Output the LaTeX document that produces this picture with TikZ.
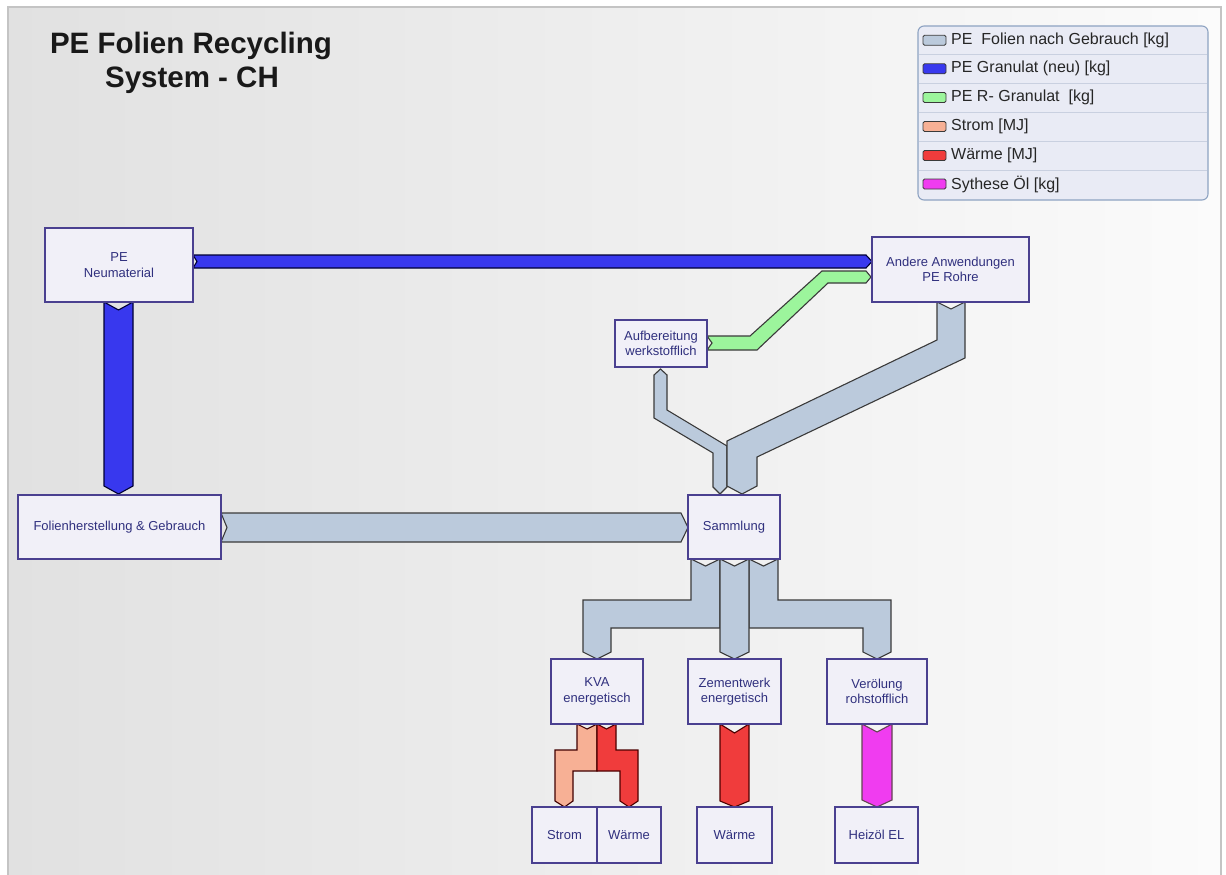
\documentclass[tikz,border=0pt]{standalone}
\usepackage{fontspec}
\setmainfont{Liberation Sans}
\usetikzlibrary{calc}
\definecolor{bgl}{HTML}{E1E1E1}
\definecolor{bgr}{HTML}{FBFBFB}
\definecolor{panelline}{HTML}{C4C4C4}
\definecolor{boxfill}{HTML}{F1F0F8}
\definecolor{boxline}{HTML}{4A4090}
\definecolor{boxtext}{HTML}{30307E}
\definecolor{fgray}{HTML}{BBCADC}
\definecolor{fblue}{HTML}{3838EE}
\definecolor{fgreen}{HTML}{9CF59C}
\definecolor{fsalmon}{HTML}{F7B095}
\definecolor{fred}{HTML}{F03C3C}
\definecolor{fmag}{HTML}{F03CF0}
\definecolor{edge}{HTML}{3A3A3A}
\definecolor{legfill}{HTML}{E9EBF5}
\definecolor{legline}{HTML}{8EA3C2}
\definecolor{legsep}{HTML}{C9D0E0}
\tikzset{
  procbox/.style={draw=boxline, fill=boxfill, line width=1.2pt, text=boxtext,
    font=\fontsize{13}{15.5}\selectfont, align=center, inner sep=0pt},
  flow/.style={draw=edge, line width=1.1pt, line join=miter},
  swatch/.style={draw=edge, line width=0.9pt, rounded corners=1.5pt},
  legtext/.style={anchor=west, inner sep=0pt, text=black!85, font=\fontsize{16}{18}\selectfont},
  titletext/.style={anchor=base, inner sep=0pt, text=black!90, font=\fontsize{29.5}{34}\selectfont\bfseries}
}
\begin{document}
\begin{tikzpicture}[x=1pt,y=-1pt]
\useasboundingbox (0,0) rectangle (1226,875);
\fill[white] (0,0) rectangle (1226,875);
\shade[left color=bgl,right color=bgr] (8,7) rectangle (1221,875);
\draw[panelline, line width=1.2pt] (8,875) -- (8,7) -- (1221,7) -- (1221,875);

% title
\node[titletext] (title1) at (191,53.3) {PE Folien Recycling};
\node[titletext] (title2) at (192,87.7) {System - CH};

% legend
\draw[draw=legline, fill=legfill, line width=1.1pt, rounded corners=6pt] (918,26) rectangle (1208,200);
\foreach \yy in {54.5,83,112,141,170}{\draw[legsep, line width=0.9pt] (919,\yy) -- (1207,\yy);}
\draw[swatch, fill=fgray]   (923,35.3) rectangle (946,45.3);
\draw[swatch, fill=fblue]   (923,63.8) rectangle (946,73.8);
\draw[swatch, fill=fgreen]  (923,92.5) rectangle (946,102.5);
\draw[swatch, fill=fsalmon] (923,121.5) rectangle (946,131.5);
\draw[swatch, fill=fred]    (923,150.5) rectangle (946,160.5);
\draw[swatch, fill=fmag]    (923,179) rectangle (946,189);
\node[legtext] (l1) at (951,40.3) {PE\ \ Folien nach Gebrauch [kg]};
\node[legtext] (l2) at (951,68.8) {PE Granulat (neu) [kg]};
\node[legtext] (l3) at (951,97.5) {PE R- Granulat\ \ [kg]};
\node[legtext] (l4) at (951,126.5) {Strom [MJ]};
\node[legtext] (l5) at (951,155.5) {Wärme [MJ]};
\node[legtext] (l6) at (951,184) {Sythese Öl [kg]};

% flows
% blue: Neumaterial -> Andere Anwendungen
\draw[flow, fill=fblue, draw=blue!20!black] (193,255) -- (866,255) -- (872,261.5) -- (866,268) -- (193,268) -- (197,261.5) -- cycle;
% blue: Neumaterial -> Folienherstellung
\draw[flow, fill=fblue, draw=blue!20!black] (104,302) -- (118.5,310) -- (133,302) -- (133,486) -- (118.5,494) -- (104,486) -- cycle;
% gray: Folienherstellung -> Sammlung
\draw[flow, fill=fgray] (221,513) -- (681,513) -- (688,527.5) -- (681,542) -- (221,542) -- (227,527.5) -- cycle;
% green: Aufbereitung -> Andere
\draw[flow, fill=fgreen] (707,336) -- (750,336) -- (822,271) -- (866,271) -- (871,277) -- (866,283) -- (828,283) -- (757,350) -- (707,350) -- (712,343) -- cycle;
% gray: Aufbereitung -> Sammlung
\draw[flow, fill=fgray] (654,375) -- (660.5,369) -- (667,375) -- (667,410) -- (727,446) -- (727,487) -- (720,494) -- (713,487) -- (713,453) -- (654,418) -- cycle;
% gray: Andere -> Sammlung
\draw[flow, fill=fgray] (937,302) -- (951,309) -- (965,302) -- (965,358) -- (757,457) -- (757,486) -- (742,494) -- (727,486) -- (727,441) -- (937,340) -- cycle;
% gray: Sammlung -> KVA
\draw[flow, fill=fgray] (691,559) -- (705.5,566) -- (720,559) -- (720,628) -- (611,628) -- (611,652) -- (597,659) -- (583,652) -- (583,600) -- (691,600) -- cycle;
% gray: Sammlung -> Verölung
\draw[flow, fill=fgray] (749,559) -- (763.5,566) -- (778,559) -- (778,600) -- (891,600) -- (891,652) -- (877,659) -- (863,652) -- (863,628) -- (749,628) -- cycle;
% gray: Sammlung -> Zementwerk
\draw[flow, fill=fgray] (720,559) -- (734.5,566) -- (749,559) -- (749,652) -- (734.5,659) -- (720,652) -- cycle;
% KVA -> Strom
\draw[flow, fill=fsalmon, draw=black!75!red] (577,724) -- (587,729) -- (597,724) -- (597,771) -- (573,771) -- (573,801) -- (564.5,807) -- (555,801) -- (555,750) -- (577,750) -- cycle;
% KVA -> Wärme
\draw[flow, fill=fred, draw=black!70!red] (597,724) -- (606.5,729) -- (616,724) -- (616,750) -- (638,750) -- (638,801) -- (629,807) -- (620,801) -- (620,771) -- (597,771) -- cycle;
% Zementwerk -> Wärme
\draw[flow, fill=fred, draw=black!70!red] (720,724) -- (734.5,733) -- (749,724) -- (749,801) -- (734.5,807) -- (720,801) -- cycle;
% Verölung -> Heizöl
\draw[flow, fill=fmag, draw=black!70!magenta] (862,724) -- (877,732) -- (892,724) -- (892,800) -- (877,807) -- (862,800) -- cycle;

% process boxes
\node[procbox, minimum width=148pt, minimum height=74pt] (neu) at (119,265) {PE\\Neumaterial};
\node[procbox, minimum width=157pt, minimum height=65pt] (andere) at (950.5,269.5) {Andere Anwendungen\\PE Rohre};
\node[procbox, minimum width=92pt, minimum height=47pt] (aufb) at (661,343.5) {Aufbereitung\\werkstofflich};
\node[procbox, minimum width=203pt, minimum height=64pt] (folien) at (119.5,527) {Folienherstellung \& Gebrauch};
\node[procbox, minimum width=92pt, minimum height=64pt] (samm) at (734,527) {Sammlung};
\node[procbox, minimum width=92pt, minimum height=65pt] (kva) at (597,691.5) {KVA\\energetisch};
\node[procbox, minimum width=93pt, minimum height=65pt] (zem) at (734.5,691.5) {Zementwerk\\energetisch};
\node[procbox, minimum width=100pt, minimum height=65pt] (veroel) at (877,691.5) {Verölung\\rohstofflich};
\node[procbox, minimum width=65pt, minimum height=56pt] (strom) at (564.5,835) {Strom};
\node[procbox, minimum width=64pt, minimum height=56pt] (waerme1) at (629,835) {Wärme};
\node[procbox, minimum width=75pt, minimum height=56pt] (waerme2) at (734.5,835) {Wärme};
\node[procbox, minimum width=83pt, minimum height=56pt] (heizoel) at (876.5,835) {Heizöl EL};
\end{tikzpicture}
\end{document}
